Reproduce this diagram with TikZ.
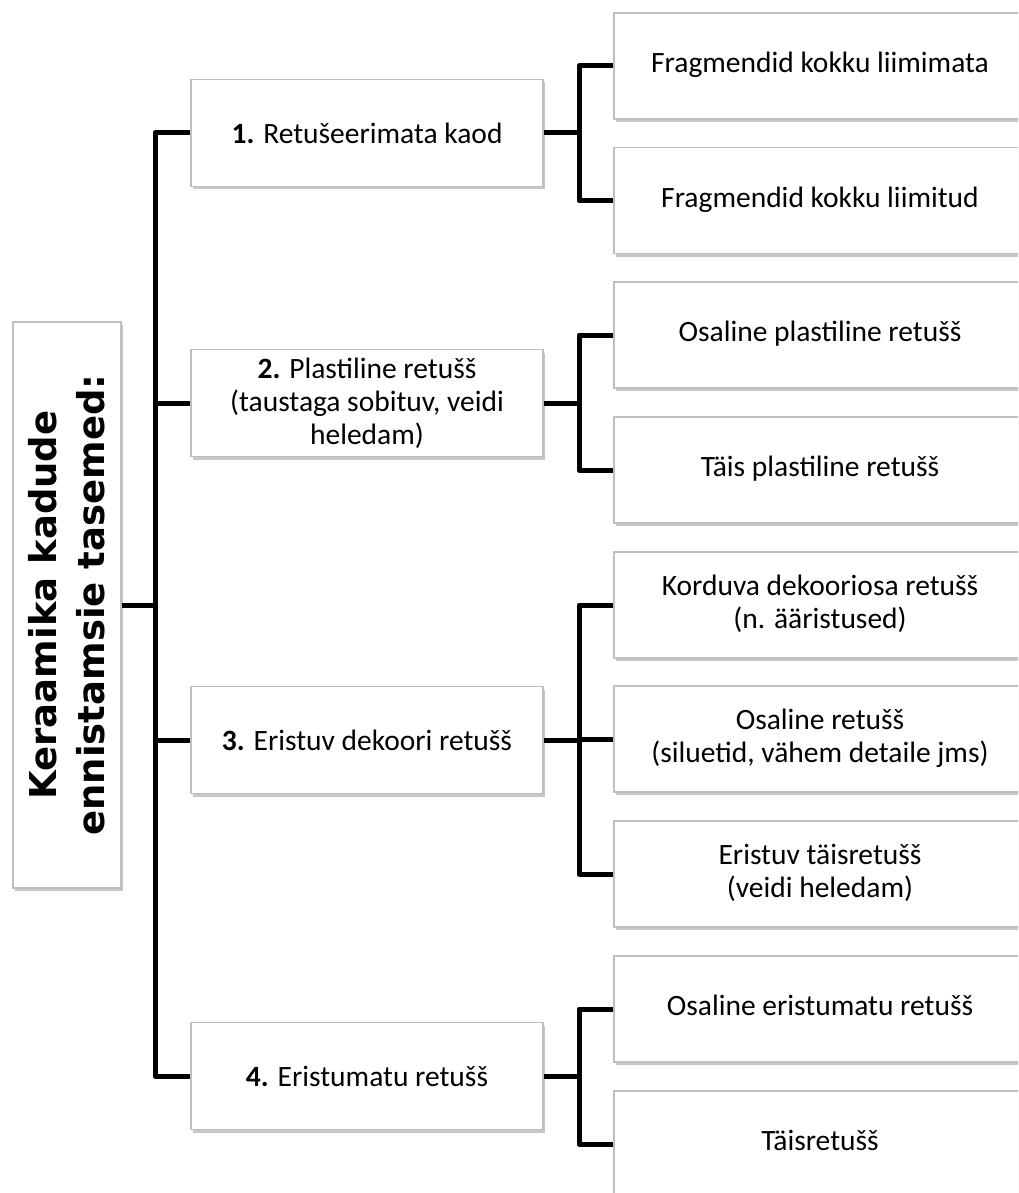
\documentclass[tikz,border=0pt]{standalone}
\usepackage{fontspec}
\setmainfont{Carlito}
\newfontfamily\titlefont{DejaVu Sans}
\usetikzlibrary{shadows}
\newcommand{\rbox}[1]{\begin{tabular}{@{}c@{}}#1\end{tabular}\hspace*{58pt}}
\begin{document}
\begin{tikzpicture}[x=1pt,y=-1pt,
  boxbase/.style={draw=black!25, line width=1.5pt, fill=white, inner sep=0pt, align=center,
    font=\fontsize{29.5}{33}\selectfont,
    drop shadow={shadow xshift=2pt, shadow yshift=-3pt, opacity=0.4, fill=black!55}},
  lonebox/.style={boxbase, minimum width=352pt, minimum height=107pt},
  ltwobox/.style={boxbase, minimum width=470pt, minimum height=106pt},
  titlebox/.style={boxbase, minimum width=108pt, minimum height=566pt},
  conn/.style={line width=5pt, line join=round, black}]
\useasboundingbox (0,0) rectangle (1018,1193);
\clip (0,0) rectangle (1018,1193);
\fill[white] (0,0) rectangle (1018,1193);

% coordinates for the vertical bars
\coordinate (tk) at (155,0);
\coordinate (bx) at (579,0);

% title
\node[titlebox] (t) at (67,605) {};
\node[rotate=90, align=center, inner sep=0pt, font=\titlefont\bfseries\fontsize{37}{48}\selectfont] (tt) at (t.center)
  {Keraamika kadude\\ennistamsie tasemed:};

% level 1
\node[lonebox] (p1) at (367,133) {\textbf{1.} Retušeerimata kaod};
\node[lonebox] (p2) at (367,403) {\textbf{2.} Plastiline retušš\\(taustaga sobituv, veidi\\heledam)};
\node[lonebox] (p3) at (367,740) {\textbf{3.} Eristuv dekoori retušš};
\node[lonebox] (p4) at (367,1076) {\textbf{4.} Eristumatu retušš};

% level 2
\node[ltwobox] (a1) at (849,66) {\rbox{Fragmendid kokku liimimata}};
\node[ltwobox] (a2) at (849,200.5) {\rbox{Fragmendid kokku liimitud}};
\node[ltwobox] (b1) at (849,335) {\rbox{Osaline plastiline retušš}};
\node[ltwobox] (b2) at (849,470) {\rbox{Täis plastiline retušš}};
\node[ltwobox] (c1) at (849,605) {\rbox{Korduva dekooriosa retušš\\(n. ääristused)}};
\node[ltwobox] (c2) at (849,739) {\rbox{Osaline retušš\\(siluetid, vähem detaile jms)}};
\node[ltwobox] (c3) at (849,874) {\rbox{Eristuv täisretušš\\(veidi heledam)}};
\node[ltwobox] (d1) at (849,1009) {\rbox{Osaline eristumatu retušš}};
\node[ltwobox] (d2) at (849,1144) {\rbox{Täisretušš}};

% trunk
\draw[conn] (p1.west) -- (p1.west -| tk) -- (p4.west -| tk) -- (p4.west);
\draw[conn] (p2.west -| tk) -- (p2.west);
\draw[conn] (p3.west -| tk) -- (p3.west);
\draw[conn] (t.east) -- (t.east -| tk);

% branches
\draw[conn] (a1.west) -- (a1.west -| bx) -- (a2.west -| bx) -- (a2.west);
\draw[conn] (p1.east) -- (p1.east -| bx);
\draw[conn] (b1.west) -- (b1.west -| bx) -- (b2.west -| bx) -- (b2.west);
\draw[conn] (p2.east) -- (p2.east -| bx);
\draw[conn] (c1.west) -- (c1.west -| bx) -- (c3.west -| bx) -- (c3.west);
\draw[conn] (c2.west -| bx) -- (c2.west);
\draw[conn] (p3.east) -- (p3.east -| bx);
\draw[conn] (d1.west) -- (d1.west -| bx) -- (d2.west -| bx) -- (d2.west);
\draw[conn] (p4.east) -- (p4.east -| bx);
\end{tikzpicture}
\end{document}
